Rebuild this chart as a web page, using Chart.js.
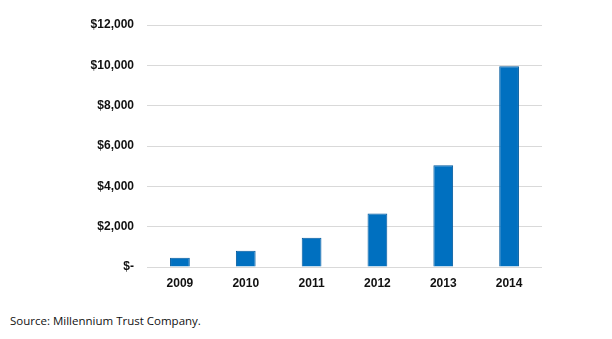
<!DOCTYPE html>
<html>
<head>
<meta charset="utf-8">
<script src="https://cdn.jsdelivr.net/npm/chart.js@4"></script>
<style>
    body { margin: 0; background: #fff; }
    #wrap { position: absolute; left: 0; top: 0; width: 612px; height: 300px; }
    #source { position: absolute; left: 10px; top: 313px; font-family: "Open Sans", sans-serif; font-size: 11.5px; color: #111; }
</style>
</head>
<body>
<div id="wrap"><canvas id="barChart"></canvas></div>
<div id="source">Source: Millennium Trust Company.</div>
<script>
    // 数据
    const years = ['2009', '2010', '2011', '2012', '2013', '2014'];
    const amounts = [460, 800, 1450, 2650, 5050, 9950];
    const yTicks = [0, 2000, 4000, 6000, 8000, 10000, 12000];

    function money(v) {
        if (v === 0) return '$-';
        return '$' + v.toLocaleString('en-US');
    }

    let ctx = document.getElementById('barChart').getContext('2d');
    new Chart(ctx, {
        type: 'bar',
        data: {
            labels: years,
            datasets: [{
                data: amounts,
                backgroundColor: '#0070c0',
                borderColor: '#005a9e',
                borderWidth: 1,
                barPercentage: 0.3,
                categoryPercentage: 1
            }]
        },
        options: {
            responsive: true,
            maintainAspectRatio: false,
            animation: false,
            layout: { padding: { top: 25, right: 70, left: 0, bottom: 0 } },
            plugins: { legend: { display: false }, tooltip: { enabled: false } },
            scales: {
                x: {
                    grid: { display: false, drawTicks: false },
                    border: { display: false },
                    ticks: { color: '#111', padding: 9, font: { family: 'Liberation Sans', size: 12, weight: 'bold' } },
                    afterFit: function (scale) { scale.height = 33; }
                },
                y: {
                    min: 0,
                    max: 12000,
                    afterBuildTicks: function (scale) {
                        scale.ticks = yTicks.map(function (v) { return { value: v }; });
                    },
                    grid: { color: '#d9d9d9', lineWidth: 1, drawTicks: false },
                    border: { display: false },
                    ticks: {
                        color: '#111',
                        padding: 13,
                        font: { family: 'Liberation Sans', size: 12, weight: 'bold' },
                        callback: function (v) { return money(v); }
                    },
                    afterFit: function (scale) { scale.width = 147; }
                }
            }
        }
    });
</script>
</body>
</html>
